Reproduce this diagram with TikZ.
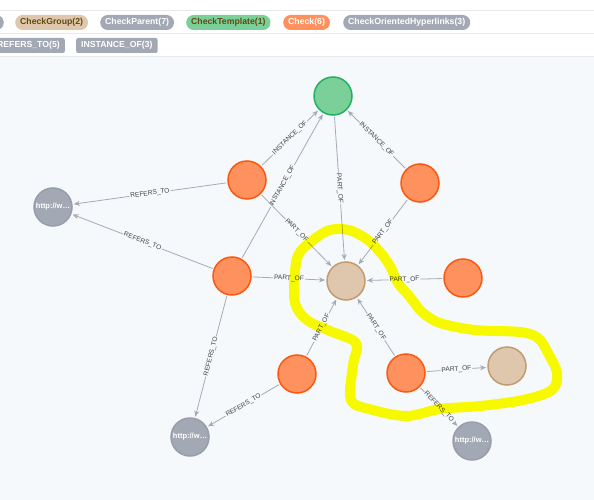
\documentclass[tikz,border=0pt]{standalone}
\usepackage{fontspec}
\setmainfont{Liberation Sans}
\usetikzlibrary{arrows.meta}

\definecolor{canvasbg}{HTML}{F6F9FC}
\definecolor{sepgray}{HTML}{E6EAEF}
\definecolor{checkfill}{HTML}{FF915F}
\definecolor{checkline}{HTML}{F85A12}
\definecolor{tmplfill}{HTML}{7AD098}
\definecolor{tmplline}{HTML}{24B062}
\definecolor{grpfill}{HTML}{DFC7AE}
\definecolor{grpline}{HTML}{C29C6F}
\definecolor{urlfill}{HTML}{A3A9B4}
\definecolor{urlline}{HTML}{979EA9}
\definecolor{relgray}{HTML}{A5ABB6}
\definecolor{darktext}{HTML}{604A0E}
\definecolor{marker}{HTML}{FFFF00}

\tikzset{
  blob/.style={circle, minimum size=38pt, inner sep=0pt, line width=1.5pt, outer sep=2pt},
  check/.style={blob, fill=checkfill, draw=checkline},
  tmpl/.style={blob, fill=tmplfill, draw=tmplline},
  grp/.style={blob, fill=grpfill, draw=grpline},
  url/.style={blob, fill=urlfill, draw=urlline, text=white, font=\bfseries\fontsize{7.5}{8}\selectfont},
  rel/.style={draw=relgray, line width=0.8pt, -{Stealth[length=6pt,width=5pt]}},
  lbl/.style={sloped, fill=canvasbg, text=black!75, inner sep=1pt, font=\fontsize{6.6}{7}\selectfont},
  pill/.style={rectangle, rounded corners=7.5pt, minimum height=15pt, inner ysep=0pt, inner xsep=5pt, text=white, font=\bfseries\fontsize{8.7}{9}\selectfont},
  tag/.style={pill, rounded corners=2pt, fill=urlfill},
  hilite/.style={draw=marker, line width=10pt, line join=round, blend mode=multiply}
}

\begin{document}
\begin{tikzpicture}[x=1pt,y=-1pt]
\useasboundingbox (0,0) rectangle (594,500);
\clip (0,0) rectangle (594,500);
% header and canvas
\fill[white] (0,0) rectangle (594,57);
\fill[canvasbg] (0,57) rectangle (594,500);
\draw[sepgray, line width=0.8pt] (0,10) -- (594,10);
\draw[sepgray, line width=0.8pt] (0,33) -- (594,33);
\draw[sepgray, line width=1pt] (0,57) -- (594,57);
% legend
\node[pill, fill=urlfill, anchor=east, minimum width=30pt] (lcut) at (4,22.5) {};
\node[pill, fill=grpfill, text=darktext, anchor=west] (lgrp) at (15,22.5) {CheckGroup(2)};
\node[pill, fill=urlfill, anchor=west] (lpar) at (100,22.5) {CheckParent(7)};
\node[pill, fill=tmplfill, text=darktext, anchor=west] (ltmpl) at (186,22.5) {CheckTemplate(1)};
\node[pill, fill=checkfill, anchor=west] (lchk) at (283,22.5) {Check(6)};
\node[pill, fill=urlfill, anchor=west] (llink) at (343,22.5) {CheckOrientedHyperlinks(3)};
\node[tag, anchor=east] (lref) at (65,45.5) {REFERS\_TO(5)};
\node[tag, anchor=west] (linst) at (76,45.5) {INSTANCE\_OF(3)};
% graph
\node[tmpl] (tmpl) at (333,96) {};
\node[check] (ca) at (247,180) {};
\node[check] (cb) at (420,183) {};
\node[check] (cc) at (232,276) {};
\node[check] (cd) at (463,278) {};
\node[check] (ce) at (297,374) {};
\node[check] (cf) at (406,373) {};
\node[grp] (g1) at (346,281) {};
\node[grp] (g2) at (507,366) {};
\node[url] (u1) at (53,207) {http://w…};
\node[url] (u2) at (190,437) {http://w…};
\node[url] (u3) at (472,441) {http://w…};
\draw[rel] (ca) -- node[lbl]{REFERS\_TO} (u1);
\draw[rel] (cc) -- node[lbl]{REFERS\_TO} (u1);
\draw[rel] (cc) -- node[lbl]{REFERS\_TO} (u2);
\draw[rel] (ce) -- node[lbl]{REFERS\_TO} (u2);
\draw[rel] (cf) -- node[lbl]{REFERS\_TO} (u3);
\draw[rel] (ca) -- node[lbl]{INSTANCE\_OF} (tmpl);
\draw[rel] (cc) -- node[lbl]{INSTANCE\_OF} (tmpl);
\draw[rel] (cb) -- node[lbl]{INSTANCE\_OF} (tmpl);
\draw[rel] (tmpl) -- node[lbl]{PART\_OF} (g1);
\draw[rel] (ca) -- node[lbl]{PART\_OF} (g1);
\draw[rel] (cb) -- node[lbl]{PART\_OF} (g1);
\draw[rel] (cc) -- node[lbl]{PART\_OF} (g1);
\draw[rel] (cd) -- node[lbl]{PART\_OF} (g1);
\draw[rel] (ce) -- node[lbl]{PART\_OF} (g1);
\draw[rel] (cf) -- node[lbl]{PART\_OF} (g1);
\draw[rel] (cf) -- node[lbl]{PART\_OF} (g2);
% marker scribble
\draw[hilite] plot[smooth cycle, tension=0.55] coordinates {
  (323,233) (300,252) (295,272) (295,303) (307,320) (330,331) (356,343)
  (353,365) (351,400) (373,410) (407,416) (440,409) (480,406) (523,400)
  (552,390) (557,373) (548,353) (538,338) (520,332) (475,330) (440,323)
  (422,312) (410,297) (398,283) (390,266) (380,252) (368,240) (352,231) (337,229)};
\end{tikzpicture}
\end{document}
